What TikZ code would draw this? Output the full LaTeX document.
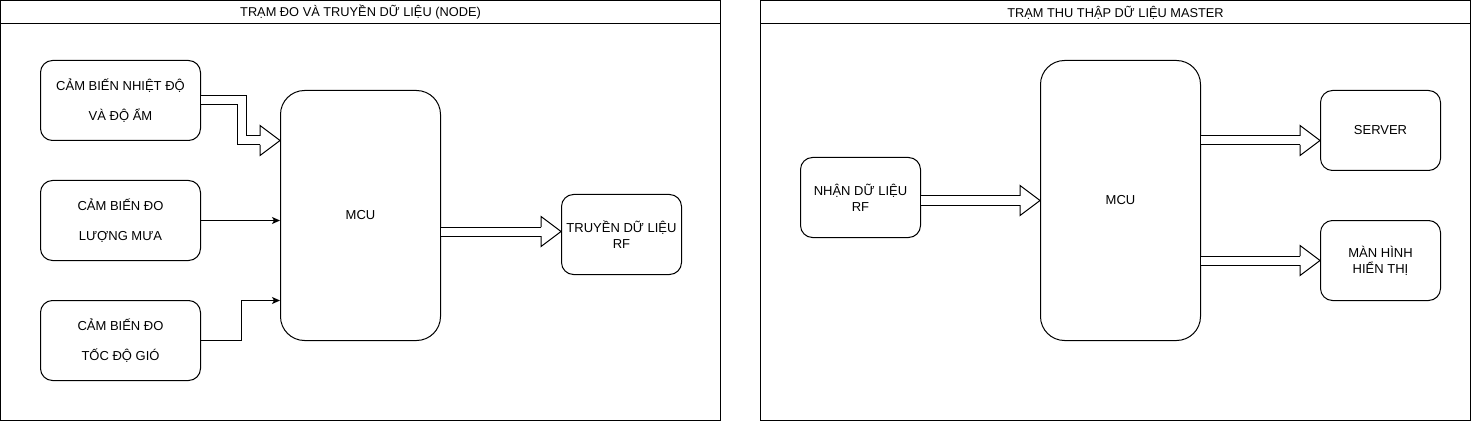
\documentclass[tikz,border=0pt]{standalone}
\usepackage{fontspec}
\setmainfont{Liberation Sans}
\usepackage{tikz}
\usetikzlibrary{arrows.meta,positioning,calc}

\newcommand{\flexhead}[1]{%
  \draw[line width=1pt, line join=miter] ($(#1)+(-20,-4.5)$) -- ++(0,-10.5) -- (#1) -- ($(#1)+(-20,15)$) -- ++(0,-10.5);}

\begin{document}
\begin{tikzpicture}[x=1pt, y=-1pt,
    panel/.style={draw, line width=1pt},
    sensorbox/.style={draw, line width=1pt, rounded corners=12pt, minimum width=160pt, minimum height=80pt, align=center, font=\fontsize{13}{30}\selectfont},
    smallbox/.style={draw, line width=1pt, rounded corners=12pt, minimum width=120pt, minimum height=80pt, align=center, inner sep=1pt, font=\fontsize{13}{16}\selectfont},
    mcubox/.style={draw, line width=1pt, rounded corners=24pt, minimum width=160pt, font=\fontsize{13}{16}\selectfont},
    thinarrow/.style={-{Stealth[length=8pt, width=7pt, inset=2pt]}, line width=1pt},
    flexshaft/.style={draw, line width=1pt, double=white, double distance=8pt, line join=miter}]
    \useasboundingbox (-0.5,-0.5) rectangle (1470.5,421.5);

    % Left panel (node)
    \draw[panel] (0,0) rectangle (720,420);
    \draw[panel] (0,23) -- (720,23);
    \node[font=\fontsize{12.8}{15}\selectfont] (titleA) at (360,12) {TRẠM ĐO VÀ TRUYỀN DỮ LIỆU (NODE)};

    \node[sensorbox] (s1) at (120,100) {CẢM BIẾN NHIỆT ĐỘ\\VÀ ĐỘ ẨM};
    \node[sensorbox] (s2) at (120,220) {CẢM BIẾN ĐO\\LƯỢNG MƯA};
    \node[sensorbox] (s3) at (120,340) {CẢM BIẾN ĐO\\TỐC ĐỘ GIÓ};
    \node[mcubox, minimum height=250pt] (mcuA) at (360,215) {MCU};
    \node[smallbox] (rf) at (621,234) {TRUYỀN DỮ LIỆU\\RF};

    % Sensor connections
    \coordinate (s1in) at ([yshift=75pt]mcuA.west);
    \draw[flexshaft] (s1.east) -- ++(41,0) |- ([xshift=-20pt]s1in);
    \flexhead{s1in}
    \draw[thinarrow] (s2.east) -- (s2.east -| mcuA.west);
    \draw[thinarrow] (s3.east) -- ++(40,0) |- ([yshift=-85pt]mcuA.west);

    % MCU to RF
    \coordinate (rfin) at ([yshift=3pt]rf.west);
    \draw[flexshaft] (mcuA.east |- rfin) -- ([xshift=-20pt]rfin);
    \flexhead{rfin}

    % Right panel (master)
    \draw[panel] (760,0) rectangle (1470,420);
    \draw[panel] (760,23) -- (1470,23);
    \node[font=\fontsize{12.8}{15}\selectfont] (titleB) at (1115,12) {TRẠM THU THẬP DỮ LIỆU MASTER};

    \node[smallbox] (rx) at (860,197) {NHẬN DỮ LIỆU\\RF};
    \node[mcubox, minimum height=280pt] (mcuB) at (1120,200) {MCU};
    \node[smallbox] (srv) at (1380,130) {SERVER};
    \node[smallbox] (scr) at (1380,260) {MÀN HÌNH\\HIỂN THỊ};

    % Data flow
    \draw[flexshaft] (rx.east |- mcuB.west) -- ([xshift=-20pt]mcuB.west);
    \flexhead{mcuB.west}
    \coordinate (srvin) at ([yshift=-10pt]srv.west);
    \draw[flexshaft] (mcuB.east |- srvin) -- ([xshift=-20pt]srvin);
    \flexhead{srvin}
    \draw[flexshaft] (mcuB.east |- scr.west) -- ([xshift=-20pt]scr.west);
    \flexhead{scr.west}

\end{tikzpicture}
\end{document}
